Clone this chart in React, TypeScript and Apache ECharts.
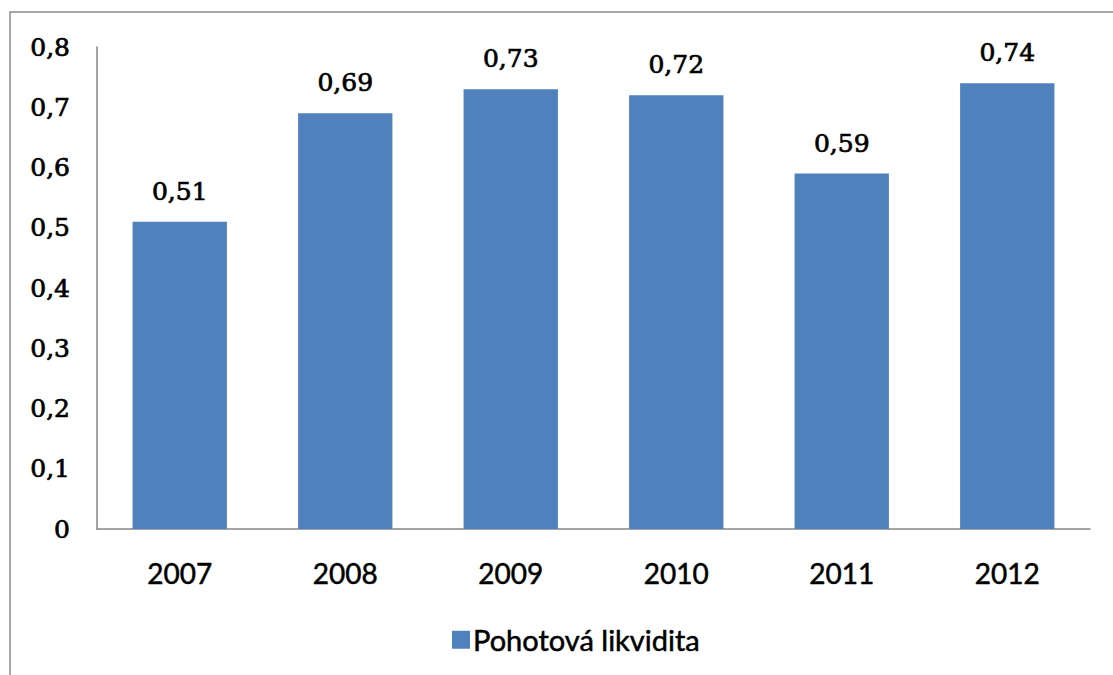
import React, { useEffect, useRef } from "react";
import * as echarts from "echarts";

const categories = ["2007", "2008", "2009", "2010", "2011", "2012"];
const values = [0.51, 0.69, 0.73, 0.72, 0.59, 0.74];
const seriesName = "Pohotová likvidita";
const yMin = 0;
const yMax = 0.8;
const yInterval = 0.1;

const fmt = (v: number) => (Math.round(v * 100) / 100).toString().replace(".", ",");

export default function App() {
  const ref = useRef<HTMLDivElement>(null);
  useEffect(() => {
    if (!ref.current) return;
    const chart = echarts.init(ref.current, null, { renderer: "svg" });
    chart.setOption({
      animation: false,
      backgroundColor: "#ffffff",
      graphic: [
        {
          type: "rect",
          shape: { x: 10, y: 12, width: 1112, height: 680 },
          style: { fill: "none", stroke: "#8c8c8c", lineWidth: 1.5 },
          silent: true,
        },
      ],
      grid: { left: 97, right: 23, top: 47, bottom: 146, containLabel: false },
      legend: {
        data: [seriesName],
        left: 447,
        top: 620,
        itemWidth: 18,
        itemHeight: 18,
        itemGap: 4,
        icon: "rect",
        textStyle: {
          fontFamily: "Lato",
          fontSize: 29,
          color: "#000",
          textBorderColor: "#000",
          textBorderWidth: 0.5,
          padding: [0, 0, 0, -2],
        },
      },
      xAxis: {
        type: "category",
        data: categories,
        axisLine: { show: true, lineStyle: { color: "#868686", width: 1.5 } },
        axisTick: { show: false },
        axisLabel: {
          fontFamily: "Lato",
          fontSize: 28,
          color: "#000",
          textBorderColor: "#000",
          textBorderWidth: 0.5,
          margin: 30,
        },
      },
      yAxis: {
        type: "value",
        min: yMin,
        max: yMax,
        interval: yInterval,
        axisLine: { show: true, lineStyle: { color: "#868686", width: 1.5 } },
        axisTick: { show: false },
        splitLine: { show: false },
        axisLabel: {
          fontFamily: "DejaVu Serif",
          fontSize: 25,
          color: "#000",
          textBorderColor: "#000",
          textBorderWidth: 0.7,
          margin: 27,
          formatter: (v: number) => fmt(v),
        },
      },
      series: [
        {
          name: seriesName,
          type: "bar",
          data: values,
          barWidth: "57%",
          itemStyle: { color: "#4F81BD" },
          label: {
            show: true,
            position: "top",
            distance: 18,
            fontFamily: "DejaVu Serif",
            fontSize: 25,
            color: "#000",
            textBorderColor: "#000",
            textBorderWidth: 0.7,
            formatter: (p: any) => fmt(p.value),
          },
        },
      ],
    });
    return () => chart.dispose();
  }, []);
  return (
    <div
      ref={ref}
      style={{ position: "absolute", left: 0, top: 0, width: 1113, height: 675 }}
    />
  );
}
